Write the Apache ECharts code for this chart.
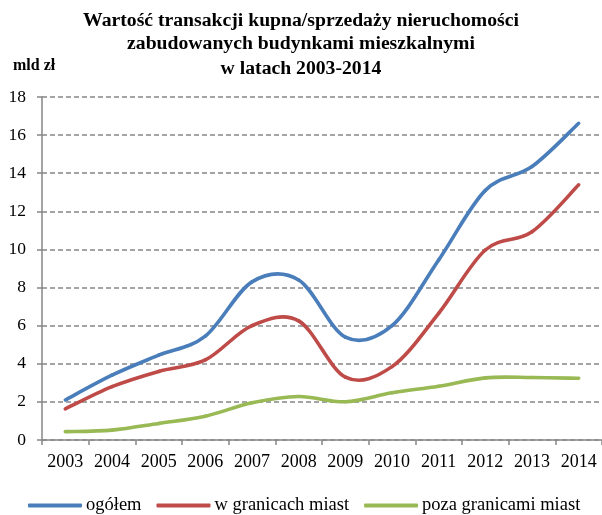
<!DOCTYPE html>
<html>
<head>
<meta charset="utf-8">
<script src="https://cdn.jsdelivr.net/npm/echarts@6/dist/echarts.min.js"></script>
<style>
html,body{margin:0;padding:0;background:#fff;}
#chart{width:602px;height:515px;}
</style>
</head>
<body>
<div id="chart"></div>
<script>
// Lata i wartości transakcji (mld zł)
const years = ['2003','2004','2005','2006','2007','2008','2009','2010','2011','2012','2013','2014'];
const ogolem = [2.1, 3.4, 4.45, 5.45, 8.3, 8.4, 5.4, 6.0, 9.45, 13.1, 14.35, 16.62];
const wGranicachMiast = [1.63, 2.8, 3.6, 4.2, 6.0, 6.25, 3.3, 3.85, 6.65, 9.97, 10.93, 13.39];
const pozaGranicamiMiast = [0.44, 0.52, 0.87, 1.25, 1.95, 2.28, 2.01, 2.48, 2.82, 3.26, 3.28, 3.24];
const yTicks = [0, 2, 4, 6, 8, 10, 12, 14, 16, 18];

const serif = '"Liberation Serif", "DejaVu Serif", serif';
const gray = '#868686';

const chart = echarts.init(document.getElementById('chart'));

// Smoothed line: each item draws the cubic segment to the next point,
// with Catmull-Rom control points computed in pixel space.
function smoothLine(name, values, color) {
  const n = values.length;
  return {
    name: name,
    type: 'custom',
    coordinateSystem: 'cartesian2d',
    data: values.map((v, i) => [i, v]),
    encode: { x: 0, y: 1 },
    itemStyle: { color: color },
    clip: false,
    renderItem: function (params, api) {
      const i = params.dataIndex;
      if (i >= n - 1) return null;
      const pt = j => {
        const k = Math.max(0, Math.min(n - 1, j));
        return api.coord([k, values[k]]);
      };
      const p0 = pt(i - 1), p1 = pt(i), p2 = pt(i + 1), p3 = pt(i + 2);
      return {
        type: 'bezierCurve',
        shape: {
          x1: p1[0], y1: p1[1],
          x2: p2[0], y2: p2[1],
          cpx1: p1[0] + (p2[0] - p0[0]) / 6,
          cpy1: p1[1] + (p2[1] - p0[1]) / 6,
          cpx2: p2[0] - (p3[0] - p1[0]) / 6,
          cpy2: p2[1] - (p3[1] - p1[1]) / 6
        },
        style: { stroke: color, lineWidth: 3.6, fill: null, lineCap: 'round' }
      };
    }
  };
}

const titleLines = [
  'Wartość transakcji kupna/sprzedaży nieruchomości',
  'zabudowanych budynkami mieszkalnymi',
  'w latach 2003-2014'
];
const titleTops = [11, 34, 59];

chart.setOption({
  animation: false,
  backgroundColor: '#fff',
  title: titleLines.map((t, i) => ({
    text: t,
    left: 301,
    top: titleTops[i],
    padding: 0,
    textAlign: 'center',
    textStyle: { fontFamily: serif, fontSize: 19.7, fontWeight: 'bold', color: '#000' }
  })).concat([{
    text: 'mld zł',
    left: 13,
    top: 58,
    padding: 0,
    textStyle: { fontFamily: serif, fontSize: 16, fontWeight: 'bold', color: '#000' }
  }]),
  grid: { left: 42, top: 97, width: 563, bottom: 75, containLabel: false },
  legend: {
    top: 496,
    left: 28,
    padding: 0,
    itemWidth: 54,
    itemHeight: 4,
    itemGap: 15,
    icon: 'roundRect',
    textStyle: { fontFamily: serif, fontSize: 18.5, color: '#000', padding: [0, 0, 0, -1] },
    data: ['ogółem', 'w granicach miast', 'poza granicami miast']
  },
  xAxis: {
    type: 'category',
    data: years,
    boundaryGap: true,
    axisLine: { lineStyle: { color: gray, width: 1.5 } },
    axisTick: { show: true, interval: 0, length: 5, inside: false, lineStyle: { color: gray, width: 1.5 } },
    axisLabel: { interval: 0, fontFamily: serif, fontSize: 18, color: '#000', margin: 13 }
  },
  yAxis: {
    type: 'value',
    min: yTicks[0],
    max: yTicks[yTicks.length - 1],
    interval: 2,
    axisLine: { show: true, lineStyle: { color: gray, width: 1.5 } },
    axisTick: { show: true, length: 5, lineStyle: { color: gray, width: 1.5 } },
    axisLabel: { fontFamily: serif, fontSize: 17.5, color: '#000', margin: 16 },
    splitLine: { show: true, lineStyle: { color: gray, width: 1.5, type: [5, 3] } }
  },
  series: [
    smoothLine('ogółem', ogolem, '#4A7EBB'),
    smoothLine('w granicach miast', wGranicachMiast, '#BE4B48'),
    smoothLine('poza granicami miast', pozaGranicamiMiast, '#98B954')
  ]
});
</script>
</body>
</html>
